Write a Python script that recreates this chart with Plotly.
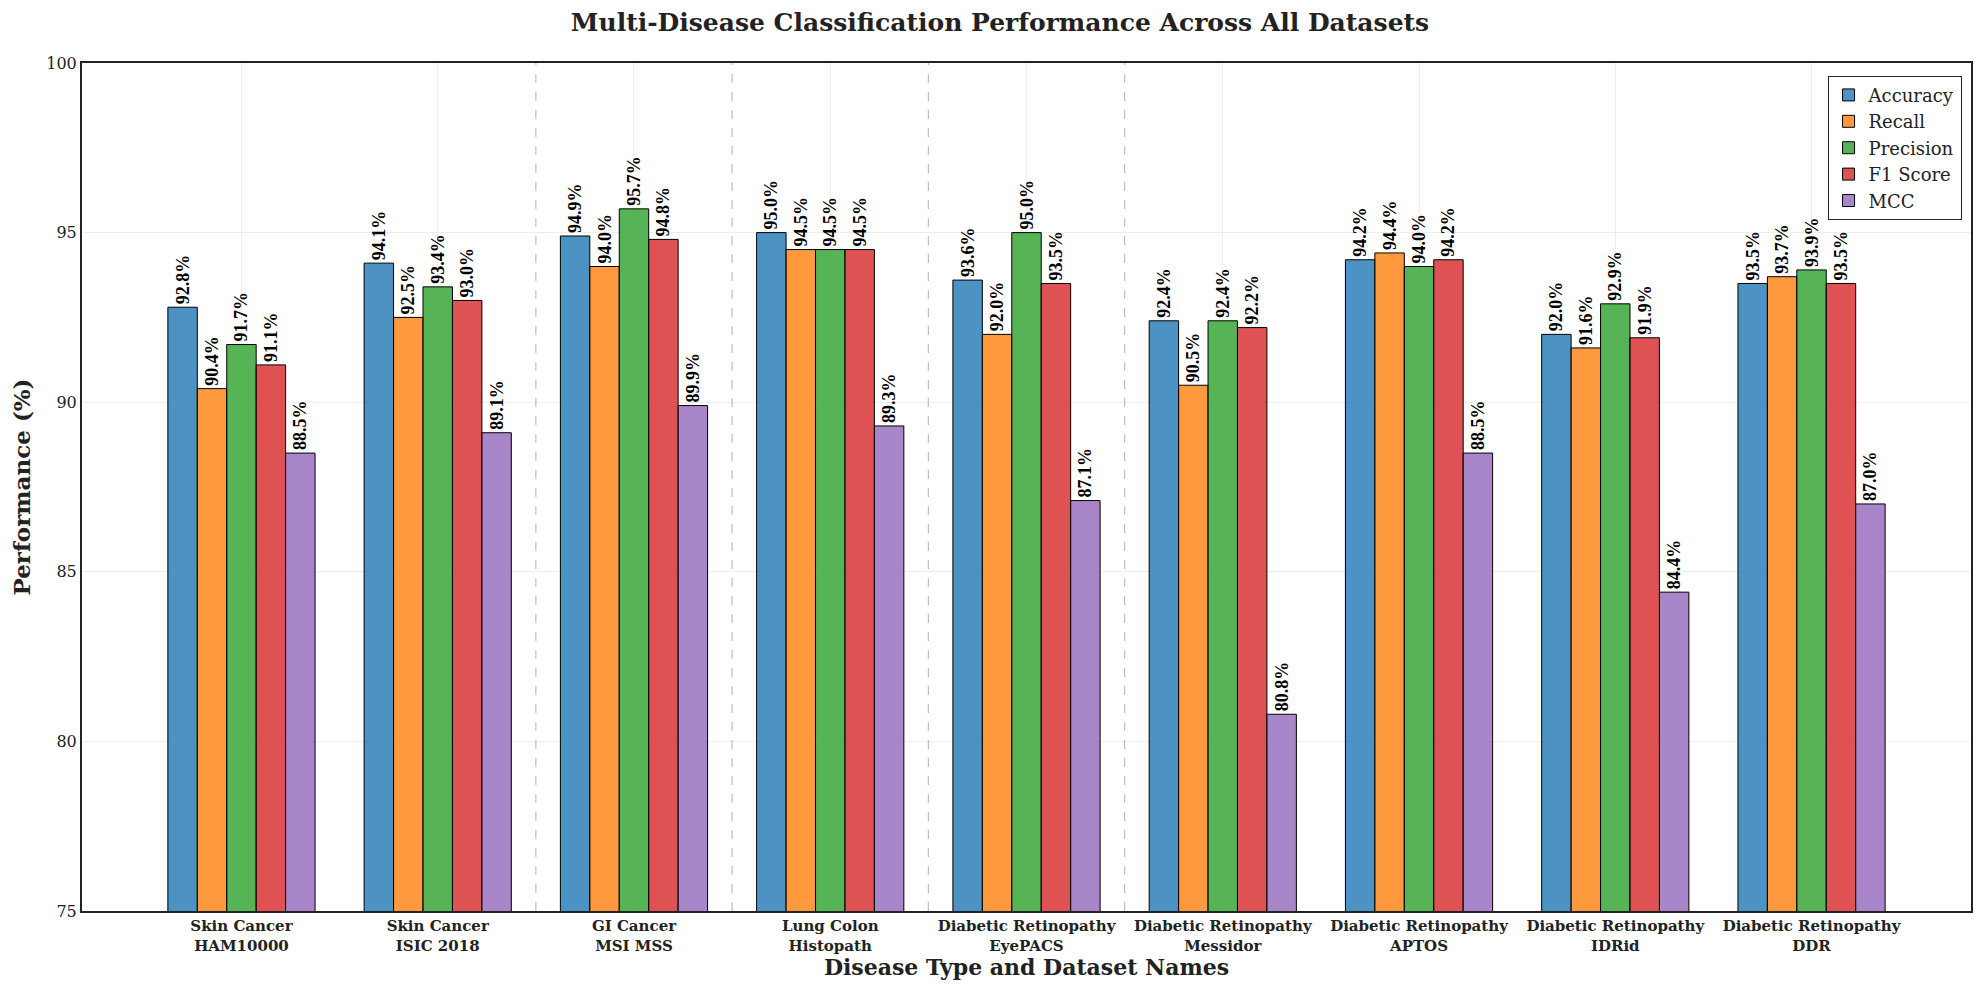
import plotly.graph_objects as go

categories = [
    "Skin Cancer<br>HAM10000", "Skin Cancer<br>ISIC 2018", "GI Cancer<br>MSI MSS",
    "Lung Colon<br>Histopath", "Diabetic Retinopathy<br>EyePACS", "Diabetic Retinopathy<br>Messidor",
    "Diabetic Retinopathy<br>APTOS", "Diabetic Retinopathy<br>IDRid", "Diabetic Retinopathy<br>DDR",
]
metrics = ["Accuracy", "Recall", "Precision", "F1 Score", "MCC"]
accuracy = [92.8, 94.1, 94.9, 95.0, 93.6, 92.4, 94.2, 92.0, 93.5]
recall = [90.4, 92.5, 94.0, 94.5, 92.0, 90.5, 94.4, 91.6, 93.7]
precision = [91.7, 93.4, 95.7, 94.5, 95.0, 92.4, 94.0, 92.9, 93.9]
f1_score = [91.1, 93.0, 94.8, 94.5, 93.5, 92.2, 94.2, 91.9, 93.5]
mcc = [88.5, 89.1, 89.9, 89.3, 87.1, 80.8, 88.5, 84.4, 87.0]
series = [accuracy, recall, precision, f1_score, mcc]
colors = ["rgba(31,119,180,0.8)", "rgba(255,127,14,0.8)", "rgba(44,160,44,0.8)",
          "rgba(214,39,40,0.8)", "rgba(148,103,189,0.8)"]
separators = [1.5, 2.5, 3.5, 4.5]
y_ticks = [75, 80, 85, 90, 95, 100]

fig = go.Figure()
xs = list(range(len(categories)))
for name, vals, col in zip(metrics, series, colors):
    fig.add_trace(go.Bar(
        x=xs, y=vals, name=name,
        marker=dict(color=col, line=dict(color="black", width=1)),
        text=[f"{v:.1f}%" for v in vals], textposition="outside", textangle=-90,
        constraintext="none", cliponaxis=False,
        textfont=dict(family="Liberation Serif", size=18, color="black", weight="bold"),
    ))

for s in separators:
    fig.add_shape(type="line", x0=s, x1=s, y0=0, y1=1, xref="x", yref="paper",
                  line=dict(color="rgba(128,128,128,0.5)", width=1.2, dash="dash"), layer="above")

fig.update_layout(
    width=1984, height=984,
    barmode="group", bargap=0.25, bargroupgap=0,
    plot_bgcolor="white", paper_bgcolor="white",
    margin=dict(l=65, r=21, t=55, b=81),
    font=dict(family="DejaVu Serif", color="#222222"),
    title=dict(text="<b>Multi-Disease Classification Performance Across All Datasets</b>",
               x=0.5, xanchor="center", y=0.986, yanchor="middle",
               font=dict(family="DejaVu Serif", size=25, color="#222222")),
    legend=dict(x=0.995, xanchor="right", y=0.985, yanchor="top",
                bordercolor="#222222", borderwidth=1, bgcolor="white",
                font=dict(family="DejaVu Serif", size=18, color="#222222"),
                traceorder="normal", itemwidth=30),
    showlegend=True,
)
fig.update_xaxes(
    tickmode="array", tickvals=xs, ticktext=[f"<b>{c}</b>" for c in categories],
    tickfont=dict(family="DejaVu Serif", size=15, color="#222222"),
    range=[-0.8125, 8.8125],
    showgrid=True, gridcolor="rgba(200,200,200,0.3)",
    showline=True, linecolor="#222222", linewidth=2, mirror=True,
    ticks="", zeroline=False,
    title=dict(text="<b>Disease Type and Dataset Names</b>",
               font=dict(family="DejaVu Serif", size=22, color="#222222"), standoff=6),
)
fig.update_yaxes(
    range=[75, 100], tickvals=y_ticks,
    tickfont=dict(family="DejaVu Serif", size=16, color="#222222"),
    showgrid=True, gridcolor="rgba(200,200,200,0.3)",
    showline=True, linecolor="#222222", linewidth=2, mirror=True,
    ticks="", zeroline=False,
    title=dict(text="<b>Performance (%)</b>",
               font=dict(family="DejaVu Serif", size=23, color="#222222"), standoff=10),
)

fig.write_html("out.html")
